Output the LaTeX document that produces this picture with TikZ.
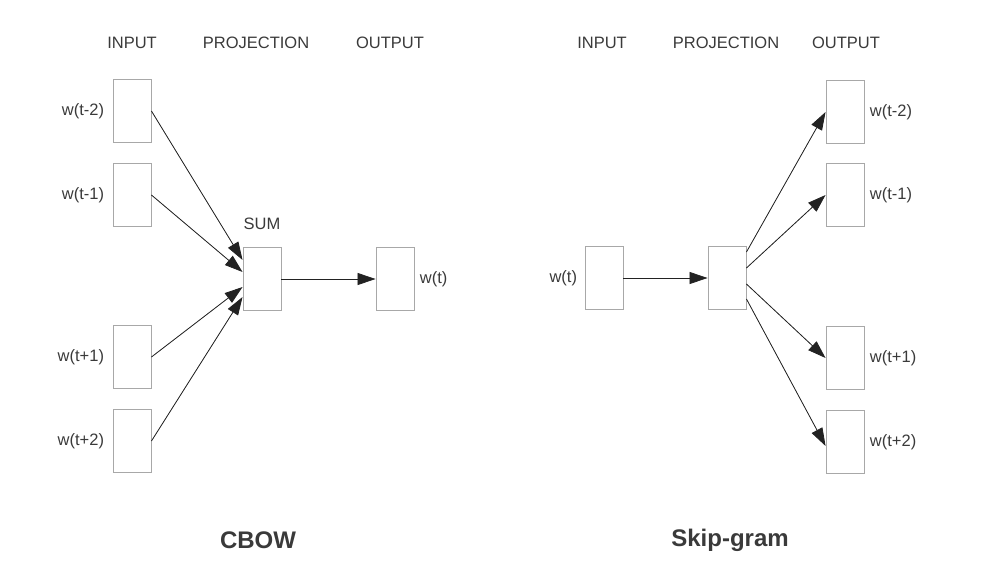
\documentclass[tikz,border=0pt]{standalone}
\usepackage{fontspec}
\setmainfont{Liberation Sans}
\usetikzlibrary{arrows.meta,positioning}
\definecolor{boxgray}{HTML}{A8A8A8}
\definecolor{textgray}{HTML}{3A3A3A}
\definecolor{arrowdark}{HTML}{222222}

\begin{document}
\begin{tikzpicture}[x=1pt,y=-1pt,>={Triangle[length=18pt,width=12pt]},
    font=\fontsize{16.5}{20}\selectfont,text=textgray,
    wordbox/.style={draw=boxgray,line width=0.9pt,minimum width=38pt,
      minimum height=63pt,inner sep=0pt},
    feed/.style={->,draw=arrowdark,fill=arrowdark,line width=0.8pt},
    title/.style={font=\bfseries\fontsize{24}{28}\selectfont}]
  \useasboundingbox (0,0) rectangle (1008,568);
  % column headers
  \foreach \x/\n/\t in {132/ci/INPUT,256/cp/PROJECTION,390/co/OUTPUT,
                        602/si/INPUT,726/sp/PROJECTION,846/so/OUTPUT}{
    \node (head\n) at (\x,43) {\t};
  }
  % CBOW
  \foreach \y/\n/\t in {111/a/t-2,195/b/t-1,357/c/t+1,441/d/t+2}{
    \node[wordbox,label={[label distance=5pt]left:w(\t)}] (cin\n) at (132,\y) {};
  }
  \node[wordbox,label={[label distance=14pt]above:SUM}] (csum) at (262,279) {};
  \node[wordbox,label={[label distance=2pt]right:w(t)}] (cout) at (395,279) {};
  \draw[feed] (cina.east) -- ([yshift=19pt]csum.west);
  \draw[feed] (cinb.east) -- ([yshift=7pt]csum.west);
  \draw[feed] (cinc.east) -- ([yshift=-8pt]csum.west);
  \draw[feed] (cind.east) -- ([yshift=-18pt]csum.west);
  \draw[feed] (csum.east) -- (cout.west);
  \node[title] (cbow) at (258,540) {CBOW};
  % Skip-gram
  \node[wordbox,label={[label distance=4pt]left:w(t)}] (sin) at (604,278) {};
  \node[wordbox] (sproj) at (727,278) {};
  \foreach \y/\n/\t in {112/a/t-2,195/b/t-1,358/c/t+1,442/d/t+2}{
    \node[wordbox,label={[label distance=2pt]right:w(\t)}] (sout\n) at (845,\y) {};
  }
  \draw[feed] (sin.east) -- (sproj.west);
  \draw[feed] ([yshift=26pt]sproj.east) -- (souta.west);
  \draw[feed] ([yshift=10pt]sproj.east) -- (soutb.west);
  \draw[feed] ([yshift=-6pt]sproj.east) -- (soutc.west);
  \draw[feed] ([yshift=-21pt]sproj.east) -- ([yshift=-4pt]soutd.west);
  \node[title] (skip) at (730,540) {Skip-gram};
\end{tikzpicture}
\end{document}
